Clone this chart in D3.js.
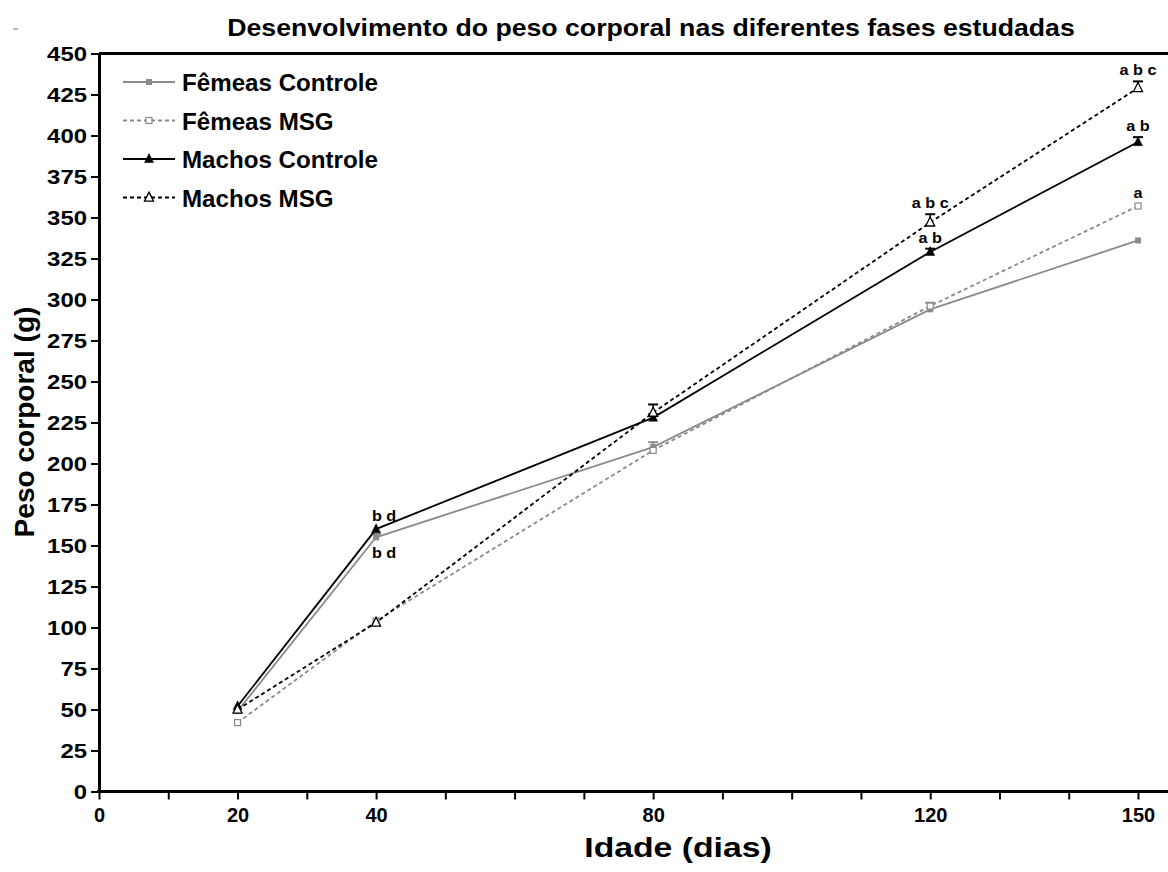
<!DOCTYPE html>
<html>
<head>
<meta charset="utf-8">
<script src="https://cdn.jsdelivr.net/npm/d3@7"></script>
<style>
  html, body { margin: 0; padding: 0; background: #fff; }
  svg { display: block; font-family: "Liberation Sans", Arial, sans-serif; }
</style>
</head>
<body>
<svg id="chart" width="1168" height="872"></svg>
<script>
// Idade (dias) at which body weight was measured
const days = [20, 40, 80, 120, 150];

// Mean body weight (g) per group
const femeasControle = [49, 155, 210, 294, 336];
const femeasMSG      = [42, 104, 208, 296, 357];
const machosControle = [52, 160, 228, 329, 396];
const machosMSG      = [50, 103, 231, 347, 429];

// Standard error per group (g)
const femeasControleErr = [1, 2, 3, 4, 1];
const femeasMSGErr      = [1, 1, 1, 1, 1];
const machosControleErr = [1, 1, 2, 2, 3];
const machosMSGErr      = [1, 1, 5, 5, 4];

// Axis ticks
const xTicks = [0, 10, 20, 30, 40, 50, 60, 70, 80, 90, 100, 110, 120, 130, 140, 150];
const xTickLabels = [0, 20, 40, 80, 120, 150];
const yTicks = d3.range(0, 451, 25);

// Significance letters: [group, day index, text, side]
const annotations = [
  ["machosControle", 1, "b d", "above"],
  ["femeasControle", 1, "b d", "below"],
  ["machosMSG", 3, "a b c", "above"],
  ["machosControle", 3, "a b", "above"],
  ["machosMSG", 4, "a b c", "above"],
  ["machosControle", 4, "a b", "above"],
  ["femeasMSG", 4, "a", "above"]
];

const series = [
  { key: "femeasControle", name: "Fêmeas Controle", values: femeasControle, err: femeasControleErr,
    color: "#8a8a8a", dash: null, marker: "square", filled: true },
  { key: "femeasMSG", name: "Fêmeas MSG", values: femeasMSG, err: femeasMSGErr,
    color: "#8a8a8a", dash: "4,3", marker: "square", filled: false },
  { key: "machosControle", name: "Machos Controle", values: machosControle, err: machosControleErr,
    color: "#000", dash: null, marker: "triangle", filled: true },
  { key: "machosMSG", name: "Machos MSG", values: machosMSG, err: machosMSGErr,
    color: "#000", dash: "4,3", marker: "triangle", filled: false }
];
const byKey = Object.fromEntries(series.map(s => [s.key, s]));

const svg = d3.select("#chart");
const x = d3.scaleLinear().domain([0, 150]).range([99, 1138]);
const y = d3.scaleLinear().domain([0, 450]).range([791.5, 53.5]);

// Text that is drawn slightly widened along its writing direction
function wideText(parent, tx, ty, sx, opts) {
  const g = parent.append("g")
    .attr("transform", `translate(${tx},${ty}) rotate(${opts.rotate || 0}) scale(${sx},1)`);
  return g.append("text")
    .attr("x", 0).attr("y", 0)
    .attr("text-anchor", opts.anchor || "middle")
    .attr("font-size", opts.size).attr("font-weight", "bold")
    .attr("fill", "#000")
    .text(opts.text);
}

// Stray mark at the top-left corner
svg.append("line").attr("x1", 13).attr("x2", 18).attr("y1", 29).attr("y2", 29)
  .attr("stroke", "#777").attr("stroke-width", 1);

// Title
wideText(svg, 651, 36, 1.16, { size: 23, text: "Desenvolvimento do peso corporal nas diferentes fases estudadas" });

// Frame top line
svg.append("line")
  .attr("x1", x(0)).attr("x2", 1168)
  .attr("y1", y(450)).attr("y2", y(450))
  .attr("stroke", "#000").attr("stroke-width", 3);

// Y axis
const yAxis = svg.append("g")
  .attr("transform", `translate(${x(0)},0)`)
  .call(d3.axisLeft(y).tickValues(yTicks).tickSize(8).tickSizeOuter(0).tickPadding(4));
yAxis.select(".domain").attr("stroke-width", 3);
yAxis.selectAll(".tick line").attr("stroke-width", 2);
yAxis.selectAll(".tick text")
  .attr("x", 0)
  .attr("transform", "translate(-12,0) scale(1.14,1)")
  .attr("font-size", 21).attr("font-weight", "bold").attr("fill", "#000")
  .attr("font-family", "Liberation Sans, Arial, sans-serif");

// X axis
const xAxis = svg.append("g")
  .attr("transform", `translate(0,${y(0)})`)
  .call(d3.axisBottom(x).tickValues(xTicks).tickSize(8).tickSizeOuter(0).tickPadding(8)
    .tickFormat(d => xTickLabels.includes(d) ? d : ""));
xAxis.select(".domain").remove();
xAxis.append("line")
  .attr("x1", x(0) - 2).attr("x2", 1168).attr("y1", 0).attr("y2", 0)
  .attr("stroke", "#000").attr("stroke-width", 3);
xAxis.selectAll(".tick line").attr("stroke-width", 2);
xAxis.selectAll(".tick text")
  .attr("font-size", 20).attr("font-weight", "bold").attr("fill", "#000")
  .attr("font-family", "Liberation Sans, Arial, sans-serif");

// Axis titles
wideText(svg, 678, 857, 1.25, { size: 27, text: "Idade (dias)" });
wideText(svg, 34, 422, 1.04, { size: 27, rotate: -90, text: "Peso corporal (g)" });

// Marker drawing
function drawMarker(g, s, cx, cy) {
  if (s.marker === "square") {
    const size = 6;
    g.append("rect")
      .attr("x", cx - size / 2).attr("y", cy - size / 2)
      .attr("width", size).attr("height", size)
      .attr("fill", s.filled ? s.color : "#fff")
      .attr("stroke", s.color).attr("stroke-width", s.filled ? 0 : 1.2);
  } else {
    const h = 9, w = 9;
    g.append("path")
      .attr("d", `M${cx},${cy - h * 0.6} L${cx + w / 2},${cy + h * 0.4} L${cx - w / 2},${cy + h * 0.4} Z`)
      .attr("fill", s.filled ? s.color : "#fff")
      .attr("stroke", s.color).attr("stroke-width", s.filled ? 0.5 : 1.3);
  }
}

const line = d3.line().x((d, i) => x(days[i])).y(d => y(d));
const plot = svg.append("g");

// Grey series first, black series on top
series.forEach(s => {
  const g = plot.append("g");
  g.append("path")
    .datum(s.values)
    .attr("d", line)
    .attr("fill", "none")
    .attr("stroke", s.color)
    .attr("stroke-width", 1.8)
    .attr("stroke-dasharray", s.dash);
  // upper error bars
  s.values.forEach((v, i) => {
    const e = s.err[i];
    if (e < 2) return;
    const cx = x(days[i]);
    g.append("line").attr("x1", cx).attr("x2", cx)
      .attr("y1", y(v + e)).attr("y2", y(v))
      .attr("stroke", s.color).attr("stroke-width", 1.5);
    g.append("line").attr("x1", cx - 5).attr("x2", cx + 5)
      .attr("y1", y(v + e)).attr("y2", y(v + e))
      .attr("stroke", s.color).attr("stroke-width", 2);
  });
  s.values.forEach((v, i) => drawMarker(g, s, x(days[i]), y(v)));
});

// Significance letters
annotations.forEach(([key, i, txt, side]) => {
  const s = byKey[key];
  const v = s.values[i], e = s.err[i];
  const cx = x(days[i]) + (i === 1 ? 8 : 0);
  const ty = side === "above" ? y(v + e) - 6 : y(v) + 21;
  wideText(svg, cx, ty, 1.08, { size: 15, text: txt });
});

// Legend
const legend = svg.append("g");
series.forEach((s, i) => {
  const ly = 82 + i * 38.5;
  legend.append("line")
    .attr("x1", 123).attr("x2", 175).attr("y1", ly).attr("y2", ly)
    .attr("stroke", s.color).attr("stroke-width", 1.8)
    .attr("stroke-dasharray", s.dash);
  drawMarker(legend, s, 149, ly);
  wideText(legend, 182, ly + 9, 1.05, { size: 23, anchor: "start", text: s.name });
});
</script>
</body>
</html>
